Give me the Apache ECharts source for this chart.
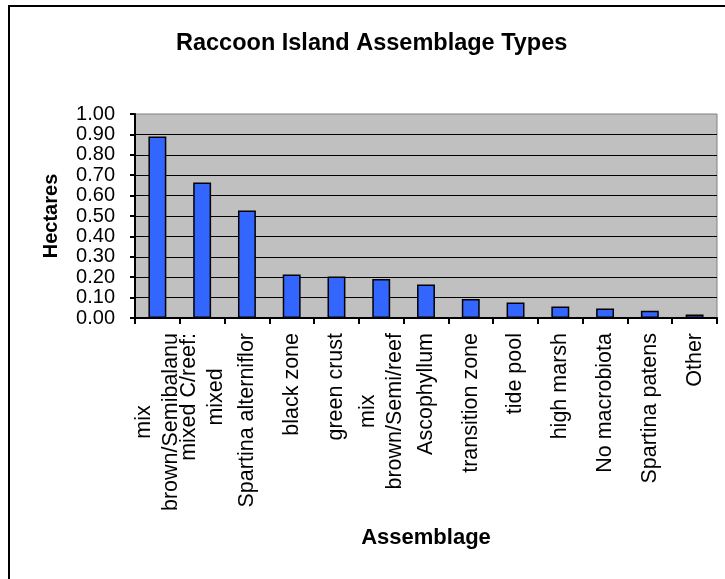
<!DOCTYPE html>
<html>
<head>
<meta charset="utf-8">
<script src="https://cdn.jsdelivr.net/npm/echarts@6/dist/echarts.min.js"></script>
<style>
html,body{margin:0;padding:0;background:#fff;}
#chart{width:725px;height:579px;}
</style>
</head>
<body>
<div id="chart"></div>
<script>
const categories = [
  "mix\nbrown/Semibalanu",
  "mixed C/reef:\nmixed",
  "Spartina alterniflor",
  "black zone",
  "green crust",
  "mix\nbrown/Semi/reef",
  "Ascophyllum",
  "transition zone",
  "tide pool",
  "high marsh",
  "No macrobiota",
  "Spartina patens",
  "Other"
];
const hectares = [0.890, 0.664, 0.527, 0.213, 0.203, 0.191, 0.164, 0.093, 0.076, 0.056, 0.046, 0.036, 0.017];
const yTicks = [0, 0.1, 0.2, 0.3, 0.4, 0.5, 0.6, 0.7, 0.8, 0.9, 1.0];

const FONT = "'Liberation Sans', Arial, sans-serif";
const chart = echarts.init(document.getElementById('chart'), null, {renderer: 'canvas'});
chart.setOption({
  backgroundColor: '#ffffff',
  animation: false,
  title: {
    text: 'Raccoon Island Assemblage Types',
    left: 171,
    top: 27,
    textStyle: {fontFamily: FONT, fontSize: 23.5, fontWeight: 'bold', color: '#000'}
  },
  graphic: [{
    type: 'rect',
    shape: {x: 9, y: 6, width: 760, height: 620},
    style: {fill: null, stroke: '#000', lineWidth: 2},
    silent: true
  }],
  grid: {
    left: 135, top: 114, width: 582, height: 204,
    show: true, backgroundColor: '#c0c0c0', borderColor: '#808080', borderWidth: 1,
    containLabel: false, outerBoundsMode: 'none'
  },
  xAxis: {
    type: 'category',
    data: categories,
    name: 'Assemblage',
    nameLocation: 'middle',
    nameGap: 209,
    nameTextStyle: {fontFamily: FONT, fontSize: 22, fontWeight: 'bold', color: '#000'},
    axisLine: {show: true, lineStyle: {color: '#000', width: 2}},
    axisTick: {show: true, length: 6, lineStyle: {color: '#000', width: 2}},
    axisLabel: {
      interval: 0,
      rotate: 90,
      margin: 15,
      color: '#000',
      fontFamily: FONT,
      fontSize: 21.5,
      lineHeight: 27,
      formatter: function (v) {
        return v.split('\n').map(function (s) { return '{c|' + s + '}'; }).join('\n');
      },
      rich: {
        c: {align: 'center', fontFamily: FONT, fontSize: 21.5, lineHeight: 27, color: '#000'}
      }
    }
  },
  yAxis: {
    type: 'value',
    min: yTicks[0],
    max: yTicks[yTicks.length - 1],
    interval: 0.1,
    name: 'Hectares',
    nameLocation: 'middle',
    nameRotate: 90,
    nameGap: 74,
    nameTextStyle: {fontFamily: FONT, fontSize: 20, fontWeight: 'bold', color: '#000'},
    axisLine: {show: true, lineStyle: {color: '#000', width: 2}},
    axisTick: {show: true, length: 5, lineStyle: {color: '#000', width: 2}},
    axisLabel: {
      margin: 20,
      color: '#000',
      fontFamily: FONT,
      fontSize: 20,
      formatter: function (v) { return v.toFixed(2); }
    },
    splitLine: {show: true, showMinLine: false, showMaxLine: false, lineStyle: {color: '#000', width: 1}}
  },
  series: [{
    type: 'bar',
    data: hectares,
    barWidth: '40%',
    itemStyle: {color: '#3366ff', borderColor: '#000', borderWidth: 1.5}
  }]
});
</script>
</body>
</html>
